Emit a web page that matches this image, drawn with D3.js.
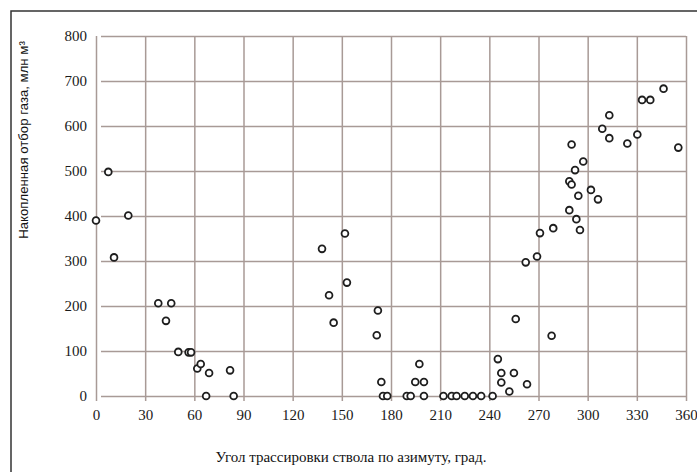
<!DOCTYPE html>
<html>
<head>
<meta charset="utf-8">
<script src="https://cdn.jsdelivr.net/npm/d3@7"></script>
<style>
  html, body { margin: 0; padding: 0; background: #fff; }
  svg { display: block; }
</style>
</head>
<body>
<svg id="chart" width="697" height="472"></svg>
<script>
// Azimuth of the well bore (degrees) and cumulative gas production (mln m³)
const azimuth = [
  0, 7.5, 11, 19.7, 38, 45.9, 42.7, 50.2, 56.5, 58, 61.8, 63.9, 69, 81.8, 67.2, 84,
  137.9, 151.9, 153.1, 142.2, 145, 172, 171.3, 174.1, 175.1, 177.7,
  189.6, 192, 194.8, 197.3, 200.1, 200.1, 212, 217, 220, 225, 230, 235, 242,
  245.2, 247.3, 255, 247.3, 252.2, 263, 256.1, 278, 262.2, 269.1, 270.9, 279,
  288.8, 293.1, 295.3, 294.3, 288.8, 290.2, 292.3, 297.3, 302, 306.3, 290.2,
  308.9, 313.2, 313.2, 324.2, 330.3, 333.2, 338.2, 346.3, 355.3
];
const production = [
  390, 498, 308, 401, 206, 206, 167, 98, 97, 97, 61, 71, 51, 57, 0, 0,
  327, 361, 252, 224, 163, 190, 135, 31, 0, 0,
  0, 0, 31, 71, 31, 0, 0, 0, 0, 0, 0, 0, 0,
  82, 51, 51, 30, 10, 26, 171, 134, 297, 310, 362, 373,
  413, 393, 369, 445, 477, 470, 502, 521, 458, 437, 559,
  594, 573, 624, 561, 581, 658, 658, 683, 552
];
const xTicks = [0, 30, 60, 90, 120, 150, 180, 210, 240, 270, 300, 330, 360];
const yTicks = [0, 100, 200, 300, 400, 500, 600, 700, 800];
const xTitle = "Угол трассировки ствола по азимуту, град.";
const yTitle = "Накопленная отбор газа, млн м³";

const svg = d3.select("#chart");
const W = 697, H = 472;
const plot = { left: 96, right: 686, top: 36, bottom: 396 };

const x = d3.scaleLinear().domain([0, 360]).range([plot.left, plot.right]);
const y = d3.scaleLinear().domain([0, 800]).range([plot.bottom, plot.top]);

const gridColor = "#a89a96";
const serif = "'Liberation Serif', 'Times New Roman', serif";

// outer frame (top and left edges)
svg.append("path")
  .attr("d", `M11,${H} L11,11 L${W},11`)
  .attr("fill", "none")
  .attr("stroke", "#333")
  .attr("stroke-width", 1.5);

// horizontal grid lines with tick stubs on the left
svg.append("g")
  .attr("transform", `translate(${plot.left},0)`)
  .call(d3.axisLeft(y).tickValues(yTicks)
    .tickSize(-(plot.right - plot.left)).tickSizeOuter(0).tickPadding(9).tickFormat(d3.format("d")))
  .call(g => g.select(".domain").remove())
  .call(g => g.selectAll(".tick line")
    .attr("x1", 5)
    .attr("stroke", gridColor).attr("stroke-width", 1.5))
  .call(g => g.selectAll(".tick text")
    .attr("fill", "#1a1a1a").attr("font-family", serif).attr("font-size", 15));

// vertical grid lines with tick stubs below
svg.append("g")
  .attr("transform", `translate(0,${plot.bottom})`)
  .call(d3.axisBottom(x).tickValues(xTicks)
    .tickSize(-(plot.bottom - plot.top)).tickSizeOuter(0).tickPadding(13).tickFormat(d3.format("d")))
  .call(g => g.select(".domain").remove())
  .call(g => g.selectAll(".tick line")
    .attr("y1", 5)
    .attr("stroke", gridColor).attr("stroke-width", 1.5))
  .call(g => g.selectAll(".tick text")
    .attr("fill", "#1a1a1a").attr("font-family", serif).attr("font-size", 15));

// data points: open circles
svg.append("g")
  .selectAll("circle")
  .data(azimuth.map((a, i) => [a, production[i]]))
  .join("circle")
  .attr("cx", d => x(d[0]))
  .attr("cy", d => y(d[1]))
  .attr("r", 3.4)
  .attr("fill", "#fff")
  .attr("stroke", "#1e1e1e")
  .attr("stroke-width", 1.8);

// axis titles
svg.append("text")
  .attr("x", 351).attr("y", 462)
  .attr("text-anchor", "middle")
  .attr("font-family", serif).attr("font-size", 15)
  .attr("fill", "#111")
  .text(xTitle);

svg.append("text")
  .attr("transform", "translate(28,140) rotate(-90)")
  .attr("text-anchor", "middle")
  .attr("font-family", "'Liberation Sans', Arial, sans-serif").attr("font-size", 13.2)
  .attr("fill", "#111")
  .text(yTitle);
</script>
</body>
</html>
